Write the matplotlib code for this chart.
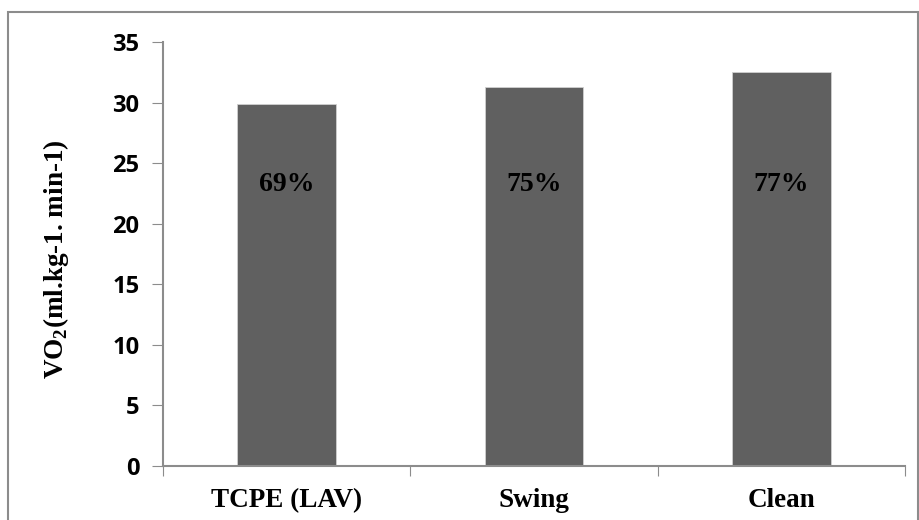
import matplotlib.pyplot as plt
from matplotlib.patches import Rectangle

categories = ['TCPE (LAV)', 'Swing', 'Clean']
vo2 = [29.9, 31.3, 32.5]
pct_labels = ['69%', '75%', '77%']
label_y = 23.2

plt.rcParams['mathtext.fontset'] = 'custom'
plt.rcParams['mathtext.bf'] = 'Liberation Serif:bold'
plt.rcParams['mathtext.rm'] = 'Liberation Serif:bold'

fig = plt.figure(figsize=(9.2, 5.2), dpi=100)
# outer chart frame
fig.patches.append(Rectangle((8 / 920, -0.01), 910 / 920, 1 - 12 / 520 + 0.01,
                             transform=fig.transFigure, fill=False,
                             edgecolor='#8c8c8c', linewidth=1.5))
ax = fig.add_axes([163 / 920, 1 - 466 / 520, 742 / 920, 424 / 520])

x = range(len(categories))
ax.bar(x, vo2, width=0.4, color='#606060', edgecolor='#d0d0d0', linewidth=0.6)
for i, t in enumerate(pct_labels):
    ax.text(i, label_y, t, ha='center', va='center', fontsize=20,
            fontweight='bold', family='Liberation Serif', color='black')

ax.set_xlim(-0.5, 2.5)
ax.set_ylim(0, 35)
ax.set_yticks(range(0, 36, 5))
ax.set_xticks([-0.5, 0.5, 1.5, 2.5])
ax.set_xticklabels([])
ax.set_xticks(list(x), minor=True)
ax.set_xticklabels(categories, minor=True, fontsize=19.5, fontweight='bold',
                   family='Liberation Serif')
ax.tick_params(axis='x', which='minor', length=0, pad=16)
ax.tick_params(axis='x', which='major', length=7, direction='out', color='#8c8c8c')
ax.tick_params(axis='y', length=8, color='#8c8c8c', pad=9)
for lab in ax.get_yticklabels():
    lab.set_fontsize(17)
    lab.set_fontweight('bold')
    lab.set_family('Open Sans')

for s in ['top', 'right']:
    ax.spines[s].set_visible(False)
for s in ['left', 'bottom']:
    ax.spines[s].set_color('#8c8c8c')
    ax.spines[s].set_linewidth(1.5)

ax.set_ylabel(r'VO$_\mathbf{2}$(ml.kg-1. min-1)', fontsize=19.5, fontweight='bold',
              family='Liberation Serif')
ax.yaxis.set_label_coords(71 / 920, 0.502, transform=fig.transFigure)

fig.savefig('out.png', dpi=100)
